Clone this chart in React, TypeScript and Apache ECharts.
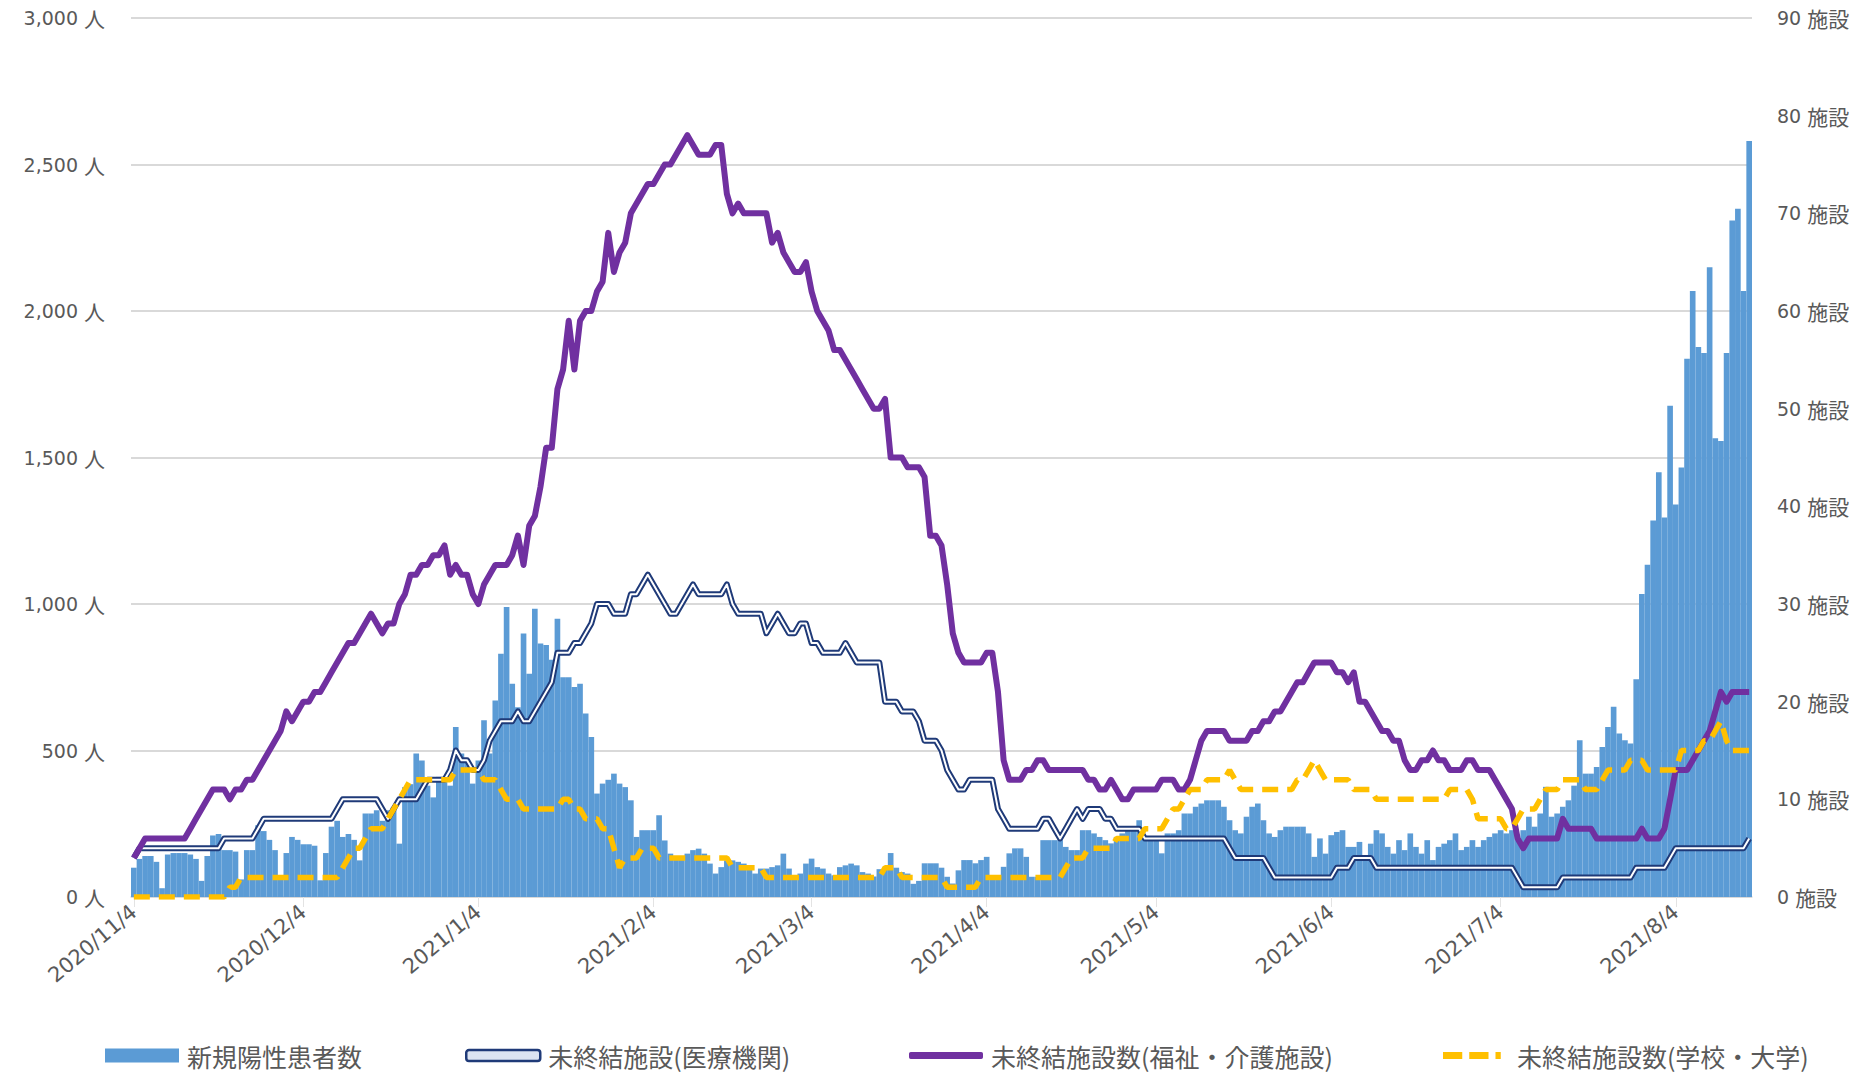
import React, { useEffect, useRef } from "react";
import * as echarts from "echarts";

// Daily series starting from this date (one value per day)
const START_DATE = "2020/11/4";

// 新規陽性患者数 (persons per day)
const newCases = [
  100, 130, 140, 140, 120, 30, 145, 150, 150, 150,
  145, 130, 55, 140, 210, 215, 160, 160, 155, 60,
  160, 160, 245, 225, 195, 160, 65, 150, 205, 195,
  180, 180, 175, 57, 150, 240, 260, 205, 215, 195,
  125, 285, 285, 296, 260, 296, 307, 182, 375, 385,
  490, 466, 380, 340, 410, 410, 380, 580, 490, 466,
  387, 466, 603, 490, 671, 830, 990, 728, 648, 899,
  762, 984, 865, 860, 810, 950, 750, 750, 717, 728,
  626, 546, 353, 387, 400, 421, 387, 375, 330, 205,
  228, 228, 228, 279, 193, 148, 137, 137, 148, 160,
  165, 148, 114, 80, 102, 125, 125, 120, 114, 108,
  80, 97, 97, 102, 108, 148, 97, 74, 80, 114,
  131, 102, 97, 80, 74, 102, 108, 114, 108, 85,
  80, 70, 95, 100, 150, 100, 85, 80, 45, 55,
  115, 115, 115, 100, 69, 46, 91, 126, 126, 115,
  126, 137, 69, 69, 103, 149, 166, 166, 137, 69,
  69, 194, 194, 194, 194, 171, 160, 160, 228, 228,
  217, 205, 194, 183, 205, 217, 228, 228, 262, 205,
  205, 194, 149, 217, 217, 228, 285, 285, 308, 319,
  330, 330, 330, 308, 262, 228, 217, 274, 308, 319,
  262, 217, 205, 228, 240, 240, 240, 240, 217, 137,
  200, 148, 211, 222, 228, 171, 171, 188, 126, 182,
  228, 217, 171, 148, 194, 160, 217, 171, 148, 194,
  126, 171, 182, 194, 217, 160, 171, 194, 171, 194,
  205, 217, 228, 217, 228, 194, 228, 274, 240, 285,
  376, 274, 285, 308, 330, 380, 535, 421, 421, 444,
  512, 580, 649, 558, 535, 524, 743, 1034, 1134, 1285,
  1450, 1295, 1677, 1340, 1466, 1837, 2068, 1877, 1857, 2149,
  1566, 1556, 1857, 2309, 2349, 2068, 2580,
];

// 未終結施設(医療機関) (facilities)
const medical = [
  4, 5, 5, 5, 5, 5, 5, 5, 5, 5,
  5, 5, 5, 5, 5, 5, 6, 6, 6, 6,
  6, 6, 7, 8, 8, 8, 8, 8, 8, 8,
  8, 8, 8, 8, 8, 8, 9, 10, 10, 10,
  10, 10, 10, 10, 9, 8, 9, 10, 10, 10,
  10, 11, 12, 12, 12, 12, 13, 15, 14, 14,
  13, 13, 14, 16, 17, 18, 18, 18, 19, 18,
  18, 19, 20, 21, 22, 25, 25, 25, 26, 26,
  27, 28, 30, 30, 30, 29, 29, 29, 31, 31,
  32, 33, 32, 31, 30, 29, 29, 30, 31, 32,
  31, 31, 31, 31, 31, 32, 30, 29, 29, 29,
  29, 29, 27, 28, 29, 28, 27, 27, 28, 28,
  26, 26, 25, 25, 25, 25, 26, 25, 24, 24,
  24, 24, 24, 20, 20, 20, 19, 19, 19, 18,
  16, 16, 16, 15, 13, 12, 11, 11, 12, 12,
  12, 12, 12, 9, 8, 7, 7, 7, 7, 7,
  7, 8, 8, 7, 6, 7, 8, 9, 8, 9,
  9, 9, 8, 8, 7, 7, 7, 7, 7, 6,
  6, 6, 6, 6, 6, 6, 6, 6, 6, 6,
  6, 6, 6, 6, 5, 4, 4, 4, 4, 4,
  4, 3, 2, 2, 2, 2, 2, 2, 2, 2,
  2, 2, 2, 3, 3, 3, 4, 4, 4, 4,
  3, 3, 3, 3, 3, 3, 3, 3, 3, 3,
  3, 3, 3, 3, 3, 3, 3, 3, 3, 3,
  3, 3, 3, 3, 3, 2, 1, 1, 1, 1,
  1, 1, 1, 2, 2, 2, 2, 2, 2, 2,
  2, 2, 2, 2, 2, 2, 3, 3, 3, 3,
  3, 3, 4, 5, 5, 5, 5, 5, 5, 5,
  5, 5, 5, 5, 5, 5, 6,
];

// 未終結施設数(福祉・介護施設) (facilities)
const welfare = [
  4, 5, 6, 6, 6, 6, 6, 6, 6, 6,
  7, 8, 9, 10, 11, 11, 11, 10, 11, 11,
  12, 12, 13, 14, 15, 16, 17, 19, 18, 19,
  20, 20, 21, 21, 22, 23, 24, 25, 26, 26,
  27, 28, 29, 28, 27, 28, 28, 30, 31, 33,
  33, 34, 34, 35, 35, 36, 33, 34, 33, 33,
  31, 30, 32, 33, 34, 34, 34, 35, 37, 34,
  38, 39, 42, 46, 46, 52, 54, 59, 54, 59,
  60, 60, 62, 63, 68, 64, 66, 67, 70, 71,
  72, 73, 73, 74, 75, 75, 76, 77, 78, 77,
  76, 76, 76, 77, 77, 72, 70, 71, 70, 70,
  70, 70, 70, 67, 68, 66, 65, 64, 64, 65,
  62, 60, 59, 58, 56, 56, 55, 54, 53, 52,
  51, 50, 50, 51, 45, 45, 45, 44, 44, 44,
  43, 37, 37, 36, 32, 27, 25, 24, 24, 24,
  24, 25, 25, 21, 14, 12, 12, 12, 13, 13,
  14, 14, 13, 13, 13, 13, 13, 13, 13, 12,
  12, 11, 11, 12, 11, 10, 10, 11, 11, 11,
  11, 11, 12, 12, 12, 11, 11, 12, 14, 16,
  17, 17, 17, 17, 16, 16, 16, 16, 17, 17,
  18, 18, 19, 19, 20, 21, 22, 22, 23, 24,
  24, 24, 24, 23, 23, 22, 23, 20, 20, 19,
  18, 17, 17, 16, 16, 14, 13, 13, 14, 14,
  15, 14, 14, 13, 13, 13, 14, 14, 13, 13,
  13, 12, 11, 10, 9, 6, 5, 6, 6, 6,
  6, 6, 6, 8, 7, 7, 7, 7, 7, 6,
  6, 6, 6, 6, 6, 6, 6, 7, 6, 6,
  6, 7, 10, 13, 13, 13, 14, 15, 16, 17,
  19, 21, 20, 21, 21, 21, 21,
];

// 未終結施設数(学校・大学) (facilities)
const schools = [
  0, 0, 0, 0, 0, 0, 0, 0, 0, 0,
  0, 0, 0, 0, 0, 0, 0, 1, 1, 2,
  2, 2, 2, 2, 2, 2, 2, 2, 2, 2,
  2, 2, 2, 2, 2, 2, 2, 3, 4, 5,
  5, 6, 7, 7, 7, 8, 9, 10, 11, 12,
  12, 12, 12, 12, 12, 12, 12, 13, 13, 13,
  13, 13, 12, 12, 12, 11, 10, 10, 10, 9,
  9, 9, 9, 9, 9, 9, 10, 10, 9, 9,
  8, 8, 8, 7, 7, 5, 3, 4, 4, 4,
  5, 5, 5, 4, 4, 4, 4, 4, 4, 4,
  4, 4, 4, 4, 4, 4, 3, 3, 3, 3,
  3, 3, 2, 2, 2, 2, 2, 2, 2, 2,
  2, 2, 2, 2, 2, 2, 2, 2, 2, 2,
  2, 2, 2, 3, 3, 3, 2, 2, 2, 2,
  2, 2, 2, 2, 1, 1, 1, 1, 1, 1,
  2, 2, 2, 2, 2, 2, 2, 2, 2, 2,
  2, 2, 2, 2, 2, 3, 4, 4, 4, 5,
  5, 5, 5, 5, 6, 6, 6, 6, 6, 7,
  7, 7, 7, 8, 9, 9, 10, 11, 11, 11,
  12, 12, 12, 12, 13, 12, 11, 11, 11, 11,
  11, 11, 11, 11, 11, 11, 12, 12, 13, 14,
  13, 12, 12, 12, 12, 12, 11, 11, 11, 11,
  10, 10, 10, 10, 10, 10, 10, 10, 10, 10,
  10, 10, 10, 11, 11, 11, 11, 10, 8, 8,
  8, 8, 8, 7, 7, 8, 9, 9, 9, 10,
  11, 11, 11, 12, 12, 12, 12, 11, 11, 11,
  12, 13, 13, 13, 13, 14, 14, 14, 13, 13,
  13, 13, 13, 13, 15, 15, 15, 15, 16, 16,
  17, 18, 16, 15, 15, 15, 15,
];

// Axis scales
const leftAxis = { min: 0, max: 3000, interval: 500, unit: "人" };
const rightAxis = { min: 0, max: 90, interval: 10, unit: "施設" };

const NAME_CASES = "新規陽性患者数";
const NAME_MEDICAL = "未終結施設(医療機関)";
const NAME_WELFARE = "未終結施設数(福祉・介護施設)";
const NAME_SCHOOLS = "未終結施設数(学校・大学)";

const BLUE = "#5B9BD5";
const NAVY = "#1F3A78";
const PURPLE = "#7030A0";
const GOLD = "#FFC000";
const LABEL_GREY = "#595959";

// Legend glyph for the dashed line: two long dashes and a short one
const DASH_ICON = "path://M0 0h22v8H0z M30 0h22v8H30z M60 0h6v8H60z";

// One category per day, formatted like 2020/11/4
function buildDates(start: string, count: number): string[] {
  const [y, m, d] = start.split("/").map(Number);
  const out: string[] = [];
  for (let i = 0; i < count; i++) {
    const dt = new Date(Date.UTC(y, m - 1, d + i));
    out.push(`${dt.getUTCFullYear()}/${dt.getUTCMonth() + 1}/${dt.getUTCDate()}`);
  }
  return out;
}

const isFourth = (_idx: number, value: string) => value.split("/")[2] === "4";

const AXIS_FONT = "'DejaVu Sans', 'Noto Sans CJK JP', sans-serif";
const CJK_FONT = "'Noto Sans CJK JP', sans-serif";

const unitRich = {
  n: { fontSize: 19, color: LABEL_GREY, fontFamily: AXIS_FONT },
  u: { fontSize: 21, color: LABEL_GREY, fontFamily: CJK_FONT },
};

export default function App() {
  const ref = useRef<HTMLDivElement>(null);

  useEffect(() => {
    if (!ref.current) return;
    const chart = echarts.init(ref.current, undefined, { renderer: "svg" });
    const dates = buildDates(START_DATE, newCases.length);

    const legendBase = {
      orient: "horizontal",
      top: 1043,
      padding: 0,
      itemWidth: 74,
      itemHeight: 14,
      selectedMode: false,
      textStyle: { fontSize: 25, color: LABEL_GREY, fontFamily: CJK_FONT, padding: [0, 0, 0, 3] },
    };

    chart.setOption({
      animation: false,
      backgroundColor: "#ffffff",
      grid: { left: 131, right: 118, top: 18, bottom: 178, containLabel: false, outerBoundsMode: "none" },
      legend: [
        { ...legendBase, left: 105, data: [{ name: NAME_CASES, icon: "rect" }] },
        {
          ...legendBase,
          left: 465,
          itemHeight: 11,
          data: [
            {
              name: NAME_MEDICAL,
              icon: "roundRect",
              itemStyle: { color: "#DCE4F2", borderColor: NAVY, borderWidth: 2.5 },
            },
          ],
        },
        {
          ...legendBase,
          left: 909,
          itemHeight: 7,
          data: [{ name: NAME_WELFARE, icon: "roundRect", itemStyle: { color: PURPLE } }],
        },
        {
          ...legendBase,
          left: 1443,
          itemHeight: 7,
          data: [{ name: NAME_SCHOOLS, icon: DASH_ICON, itemStyle: { color: GOLD } }],
        },
      ],
      xAxis: {
        type: "category",
        data: dates,
        boundaryGap: true,
        axisLine: { show: true, lineStyle: { color: "#D9D9D9", width: 1.5 } },
        axisTick: {
          show: true,
          interval: isFourth,
          alignWithLabel: true,
          length: 10,
          lineStyle: { color: "#E3E3E3" },
        },
        axisLabel: {
          interval: isFourth,
          rotate: 40,
          margin: 12,
          fontSize: 21,
          color: LABEL_GREY,
          fontFamily: AXIS_FONT,
        },
        splitLine: { show: false },
      },
      yAxis: [
        {
          type: "value",
          min: leftAxis.min,
          max: leftAxis.max,
          interval: leftAxis.interval,
          axisLine: { show: false },
          axisTick: { show: false },
          splitLine: { show: true, lineStyle: { color: "#D9D9D9", width: 2 } },
          axisLabel: {
            margin: 26,
            rich: unitRich,
            formatter: (v: number) => `{n|${v.toLocaleString("en-US")} }{u|${leftAxis.unit}}`,
          },
        },
        {
          type: "value",
          min: rightAxis.min,
          max: rightAxis.max,
          interval: rightAxis.interval,
          axisLine: { show: false },
          axisTick: { show: false },
          splitLine: { show: false },
          axisLabel: {
            margin: 25,
            rich: unitRich,
            formatter: (v: number) => `{n|${v} }{u|${rightAxis.unit}}`,
          },
        },
      ],
      series: [
        {
          name: NAME_CASES,
          type: "bar",
          yAxisIndex: 0,
          data: newCases,
          barCategoryGap: "0%",
          itemStyle: { color: BLUE },
          z: 1,
        },
        {
          name: NAME_MEDICAL,
          type: "line",
          yAxisIndex: 1,
          data: medical,
          symbol: "none",
          lineStyle: { color: NAVY, width: 6, join: "round" },
          itemStyle: { color: NAVY },
          z: 3,
        },
        {
          // white core of the double-stroked medical line
          name: "medicalCore",
          type: "line",
          yAxisIndex: 1,
          data: medical,
          symbol: "none",
          silent: true,
          lineStyle: { color: "#FFFFFF", width: 2, join: "round" },
          itemStyle: { color: "#FFFFFF" },
          z: 4,
        },
        {
          name: NAME_WELFARE,
          type: "line",
          yAxisIndex: 1,
          data: welfare,
          symbol: "none",
          lineStyle: { color: PURPLE, width: 6, join: "round" },
          itemStyle: { color: PURPLE },
          z: 5,
        },
        {
          name: NAME_SCHOOLS,
          type: "line",
          yAxisIndex: 1,
          data: schools,
          symbol: "none",
          lineStyle: { color: GOLD, width: 5.5, type: [16, 9] },
          itemStyle: { color: GOLD },
          z: 6,
        },
      ],
    });

    return () => chart.dispose();
  }, []);

  return (
    <div
      ref={ref}
      style={{ position: "absolute", left: 0, top: 0, width: 1870, height: 1075, background: "#fff" }}
    />
  );
}
